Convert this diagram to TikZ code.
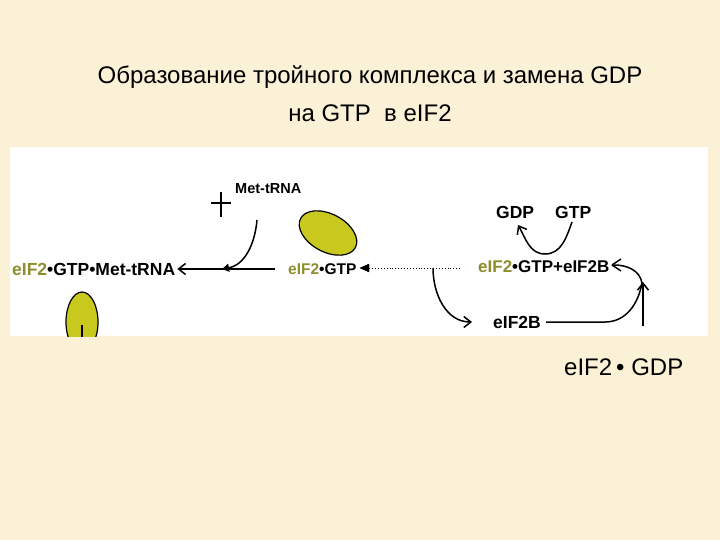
\documentclass[tikz,border=0pt]{standalone}
\usepackage{fontspec}
\setmainfont{Liberation Sans}
\usetikzlibrary{arrows.meta}
\definecolor{bg}{HTML}{FAF1D6}
\definecolor{olv}{HTML}{C8C81E}
\definecolor{olvt}{HTML}{8E8E2E}
\begin{document}
\begin{tikzpicture}[x=1pt,y=-1pt,
  lbl/.style={font=\bfseries\fontsize{17.5}{20}\selectfont,inner sep=0pt,anchor=west},
  con/.style={line width=1.5pt,-{Straight Barb[length=7pt,width=11pt]},shorten >=2pt},
  tri/.style={line width=1.5pt,-{Triangle[length=7pt,width=8pt]}}]
\fill[bg] (0,0) rectangle (720,540);
\useasboundingbox (0,0) rectangle (720,540);
\fill[white] (10,147) rectangle (708,336);
\node[font=\fontsize{24}{38}\selectfont,align=center] (title) at (370,94) {Образование тройного комплекса и замена GDP\\на GTP\ \ в eIF2};
\begin{scope}
\clip (10,147) rectangle (708,336);
\draw[fill=olv,line width=1.2pt] (328,233) ellipse[x radius=31,y radius=19,rotate=-28];
\draw[fill=olv,line width=1.2pt] (82,322) ellipse[x radius=16,y radius=30];
\draw[line width=2.5pt] (82,325) -- (82,340);
\end{scope}
\node[lbl] (tm) at (12,269) {\textcolor{olvt}{eIF2}•GTP•Met-tRNA};
\node[lbl,font=\bfseries\fontsize{15.5}{18}\selectfont] (eg) at (288,269) {\textcolor{olvt}{eIF2}•GTP};
\node[lbl,font=\bfseries\fontsize{14.5}{17}\selectfont] (met) at (235,189) {Met-tRNA};
\node[lbl,font=\bfseries\fontsize{17}{20}\selectfont] (eb) at (478,267) {\textcolor{olvt}{eIF2}•GTP+eIF2B};
\node[lbl] (gdp) at (496,212) {GDP};
\node[lbl] (gtp) at (555,212) {GTP};
\node[lbl] (b) at (493,322) {eIF2B};
\node[font=\fontsize{24}{28}\selectfont,anchor=west,inner sep=0pt] (gg) at (564,367) {eIF2\,• GDP};
% cross symbol
\draw[line width=2.6pt] (211,203) -- (231,203);
\draw[line width=2.4pt] (221,192) -- (221,217);
% main arrow
\coordinate (ms) at (275,269);
\draw[con] (ms) -- (tm.east);
\coordinate (mt) at (257,220);
\draw[tri] (mt) to[out=-95,in=10] (222,269);
% dotted
\coordinate (dd) at (460,268);
\draw[line width=0.9pt,dotted] (dd) -- (368,268);
\draw[fill=black] (360,268) -- (369,264) -- (369,272) -- cycle;
\coordinate (ds) at (433,268);
\draw[line width=1.5pt,-{Straight Barb[length=7pt,width=11pt]}] (ds) to[out=-90,in=180] (472,322);
\draw[line width=1.5pt] (546,322) -- (605,322) to[out=0,in=-100] (642,283) to[out=100,in=0] (614,265);
\draw[line width=1.5pt] (612,265) -- +(9,-6) (612,265) -- +(9,6);
\coordinate (up) at (643,326);
\draw[line width=1.5pt,-{Straight Barb[length=7pt,width=11pt]}] (up) -- (643,282);
\draw[line width=1.5pt,-{Straight Barb[length=7pt,width=11pt]}] (572,222) to[out=-110,in=0] (545,254) to[out=180,in=-60] (518,225);
\end{tikzpicture}
\end{document}
